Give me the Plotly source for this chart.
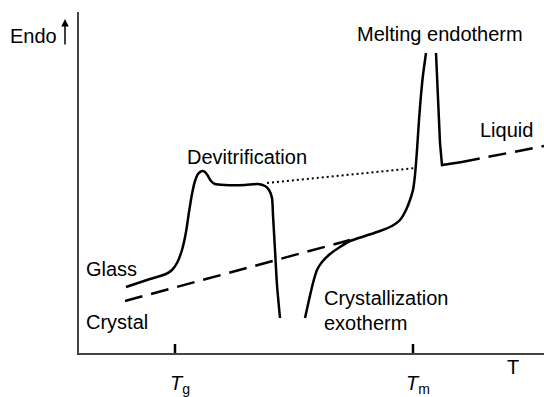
import plotly.graph_objects as go

# Schematic DSC trace (arbitrary units: temperature vs. heat flow, endo up)
glass_T = [47, 71, 87, 93, 98, 103, 107, 110, 113, 116, 119, 123, 126, 129, 132, 136, 146, 166, 179, 186, 190, 193, 194, 196, 198, 201]
glass_hf = [66, 74, 79, 83, 90, 103, 121, 141, 159, 172, 179, 182, 181, 177, 172, 169, 168, 168, 169, 167, 163, 155, 138, 103, 68, 35]

cryst_T = [226, 230, 234, 238, 243, 251, 261, 271, 286, 301, 313, 321, 327, 331, 334, 336, 338, 340, 342, 344, 347]
cryst_hf = [35, 53, 70, 83, 91, 99, 106, 112, 117, 122, 127, 133, 143, 153, 163, 178, 203, 233, 258, 278, 300]

melt_T = [357, 359, 361, 363, 383]
melt_hf = [300, 250, 210, 188, 191]

liquid_T = [383, 465]
liquid_hf = [191, 207]

crystal_base_T = [46, 271]
crystal_base_hf = [52, 113]

supercooled_T = [188, 336]
supercooled_hf = [170, 185]

tick_T = [96, 334]
tick_labels = ["<i>T</i><sub>g</sub>", "<i>T</i><sub>m</sub>"]

X_MAX = 465
Y_MAX = 341

FONT = "Liberation Sans, Arial, sans-serif"
FS = 20

fig = go.Figure()

solid = dict(color="black", width=2.5)
fig.add_trace(go.Scatter(x=glass_T, y=glass_hf, mode="lines", line=dict(**solid, shape="spline", smoothing=0.6), cliponaxis=False))
fig.add_trace(go.Scatter(x=cryst_T, y=cryst_hf, mode="lines", line=dict(**solid, shape="spline", smoothing=0.6), cliponaxis=False))
fig.add_trace(go.Scatter(x=melt_T, y=melt_hf, mode="lines", line=dict(**solid), cliponaxis=False))
fig.add_trace(go.Scatter(x=liquid_T, y=liquid_hf, mode="lines", line=dict(color="black", width=2.5, dash="18px,9px"), cliponaxis=False))
fig.add_trace(go.Scatter(x=crystal_base_T, y=crystal_base_hf, mode="lines", line=dict(color="black", width=2.5, dash="18px,9px"), cliponaxis=False))
fig.add_trace(go.Scatter(x=supercooled_T, y=supercooled_hf, mode="lines", line=dict(color="black", width=2, dash="2px,3px"), cliponaxis=False))

for t in tick_T:
    fig.add_shape(type="line", x0=t, x1=t, y0=-9, y1=9, xref="x", yref="y", line=dict(color="black", width=2.5))


def px(x):
    return x / X_MAX


def py(y):
    return y / Y_MAX


for t, lab in zip(tick_T, tick_labels):
    fig.add_annotation(x=px(t + 5), y=py(-31), xref="paper", yref="paper", text=lab, showarrow=False,
                       xanchor="center", yanchor="middle", font=dict(family=FONT, size=FS, color="black"))

labels = [
    ("Endo", -46, 317, "center"),
    ("Devitrification", 168, 196, "center"),
    ("Melting endotherm", 361, 319, "center"),
    ("Liquid", 427, 223, "center"),
    ("Glass", 5, 84, "left"),
    ("Crystal", 5, 31, "left"),
    ("Crystallization", 243, 55, "left"),
    ("exotherm", 243, 30, "left"),
    ("T", 434, -14, "center"),
]
for txt, x, y, xa in labels:
    fig.add_annotation(x=px(x), y=py(y), xref="paper", yref="paper", text=txt, showarrow=False,
                       xanchor=xa, yanchor="middle", font=dict(family=FONT, size=FS, color="black"))

# Endo arrow
fig.add_annotation(x=px(-14), y=py(334), xref="paper", yref="paper", ax=0, ay=27, text="",
                   showarrow=True, arrowhead=2, arrowsize=1, arrowwidth=1.5, arrowcolor="black")

fig.update_xaxes(range=[0, X_MAX], showline=True, linecolor="#444", linewidth=1.5, showgrid=False, zeroline=False, showticklabels=False, ticks="")
fig.update_yaxes(range=[0, Y_MAX], showline=True, linecolor="#444", linewidth=1.5, showgrid=False, zeroline=False, showticklabels=False, ticks="")

fig.update_layout(width=544, height=397, margin=dict(l=79, r=0, t=12, b=44), plot_bgcolor="white", paper_bgcolor="white", showlegend=False)

fig.write_html("out.html")
